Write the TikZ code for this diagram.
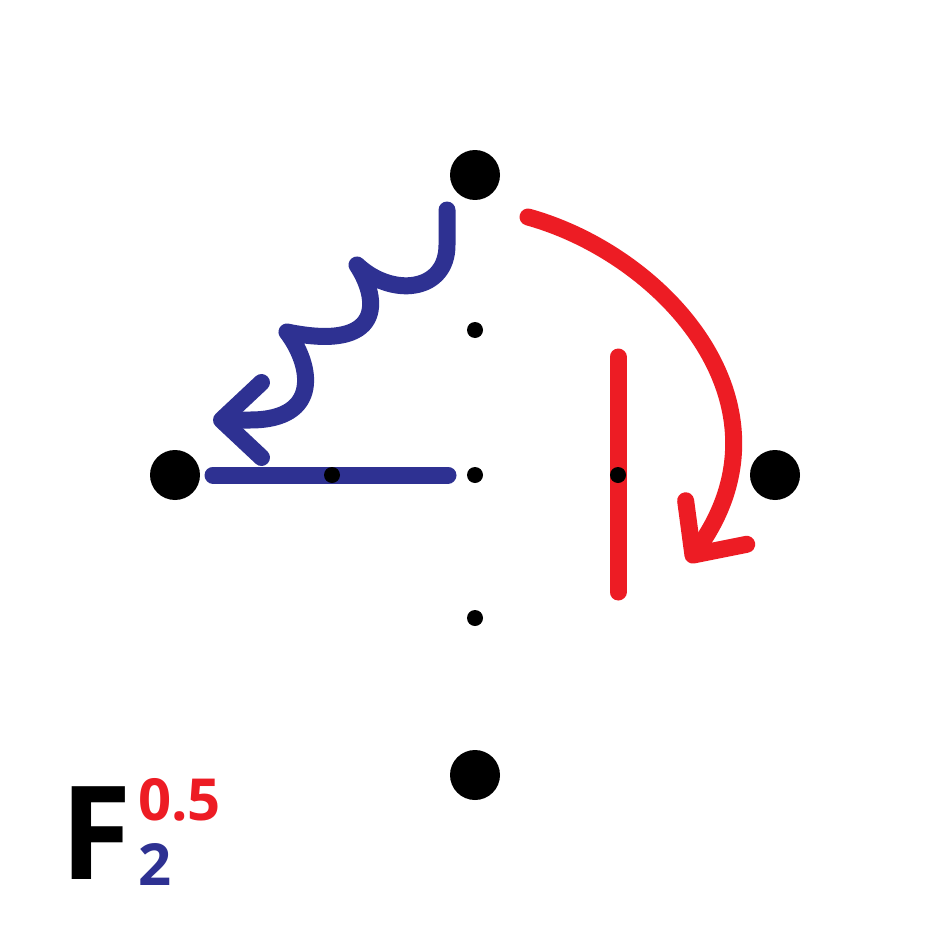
\documentclass[tikz,border=0pt]{standalone}
\usepackage{fontspec}
\setmainfont{Open Sans}
\usepackage{xcolor}
\usetikzlibrary{arrows.meta}

\definecolor{fblue}{HTML}{2E3192}
\definecolor{fred}{HTML}{ED1C24}

\begin{document}
\begin{tikzpicture}[
    x=0.02cm, y=-0.02cm,
    bigdot/.style={circle, fill=black, inner sep=0pt, minimum size=1cm},
    smalldot/.style={circle, fill=black, inner sep=0pt, minimum size=0.32cm},
    stroke/.style={line width=0.34cm, line cap=round, line join=round},
    barb/.style={-{Straight Barb[length=0.8cm, width=1.5cm, round]}}
]
\useasboundingbox[fill=white] (0,0) rectangle (950,950);

% the two bars
\draw[stroke, fblue] (213,475) -- (448,475);
\draw[stroke, fred] (618,357) -- (618,592);

% wavy blue arrow
\draw[stroke, fblue, barb] (447,210) -- (447,245)
    .. controls (447,292) and (392,298) .. (357,265)
    .. controls (380,300) and (384,352) .. (287,332)
    .. controls (312,365) and (322,420) .. (250,420) -- (213,420);

% curved red arrow
\draw[stroke, fred, barb] (528,217)
    .. controls (665,255) and (800,405) .. (688,562);

% points
\node[bigdot] (top) at (475,175) {};
\node[bigdot] (left) at (175,475) {};
\node[bigdot] (right) at (775,475) {};
\node[bigdot] (bottom) at (475,775) {};
\node[smalldot] (upper) at (475,330) {};
\node[smalldot] (centre) at (475,475) {};
\node[smalldot] (lower) at (475,618) {};
\node[smalldot] (west) at (332,475) {};
\node[smalldot] (east) at (618,475) {};

% label
\node[anchor=base west, inner sep=0pt, font=\fontsize{74}{74}\selectfont\bfseries] (F) at (60,879) {F};
\node[anchor=base west, inner sep=0pt, text=fred, font=\fontsize{33}{33}\selectfont\bfseries] (sup) at (138,820) {0.5};
\node[anchor=base west, inner sep=0pt, text=fblue, font=\fontsize{33}{33}\selectfont\bfseries] (sub) at (138,885) {2};

\end{tikzpicture}
\end{document}
